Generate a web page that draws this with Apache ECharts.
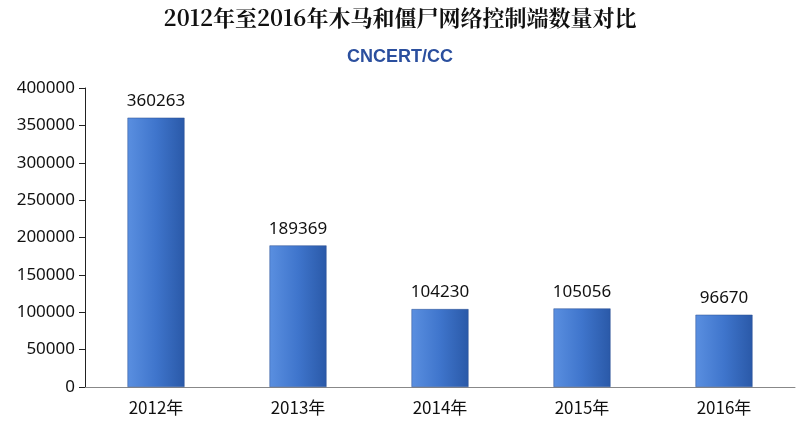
<!DOCTYPE html>
<html><head><meta charset="utf-8">
<script src="https://cdn.jsdelivr.net/npm/echarts@6/dist/echarts.min.js"></script>
<style>html,body{margin:0;background:#fff}#c{width:800px;height:431px}</style>
</head><body><div id="c"></div>
<script>
const categories = ['2012年','2013年','2014年','2015年','2016年'];
const values = [360263, 189369, 104230, 105056, 96670];
const chart = echarts.init(document.getElementById('c'));
chart.setOption({
  backgroundColor:'#fff',
  title:{text:'2012年至2016年木马和僵尸网络控制端数量对比',left:'center',top:2,
    textStyle:{fontFamily:'"Noto Serif CJK SC","Noto Sans CJK SC",serif',fontSize:22,fontWeight:'bold',color:'#111'}},
  graphic:[{type:'text',left:'center',top:48,style:{text:'CNCERT/CC',fontSize:18,fontWeight:'bold',fill:'#2b4f9e',fontFamily:'Arial'}}],
  grid:{left:85,right:5,top:88,bottom:44},
  xAxis:{type:'category',data:categories,
    axisLine:{lineStyle:{color:'#888'}},axisTick:{show:false},
    axisLabel:{fontSize:17,color:'#111',margin:12,fontFamily:'"Noto Sans CJK SC",sans-serif'}},
  yAxis:{type:'value',min:0,max:400000,interval:50000,
    axisLine:{show:true,lineStyle:{color:'#222'}},axisTick:{show:true,length:6,lineStyle:{color:'#222'}},
    splitLine:{show:false},
    axisLabel:{fontSize:17,color:'#111',margin:10,fontFamily:'"Noto Sans",sans-serif',formatter:v=>String(v)}},
  series:[{type:'bar',data:values,barWidth:57,
    itemStyle:{color:new echarts.graphic.LinearGradient(0,0,1,0,[
      {offset:0,color:'#5a8fe0'},{offset:0.5,color:'#3f75cc'},{offset:1,color:'#2a59a8'}]),
      borderColor:'#2a4f90',borderWidth:0.5},
    label:{show:true,position:'top',distance:8,fontSize:17,color:'#111',fontFamily:'"Noto Sans",sans-serif'}}]
});
</script></body></html>
